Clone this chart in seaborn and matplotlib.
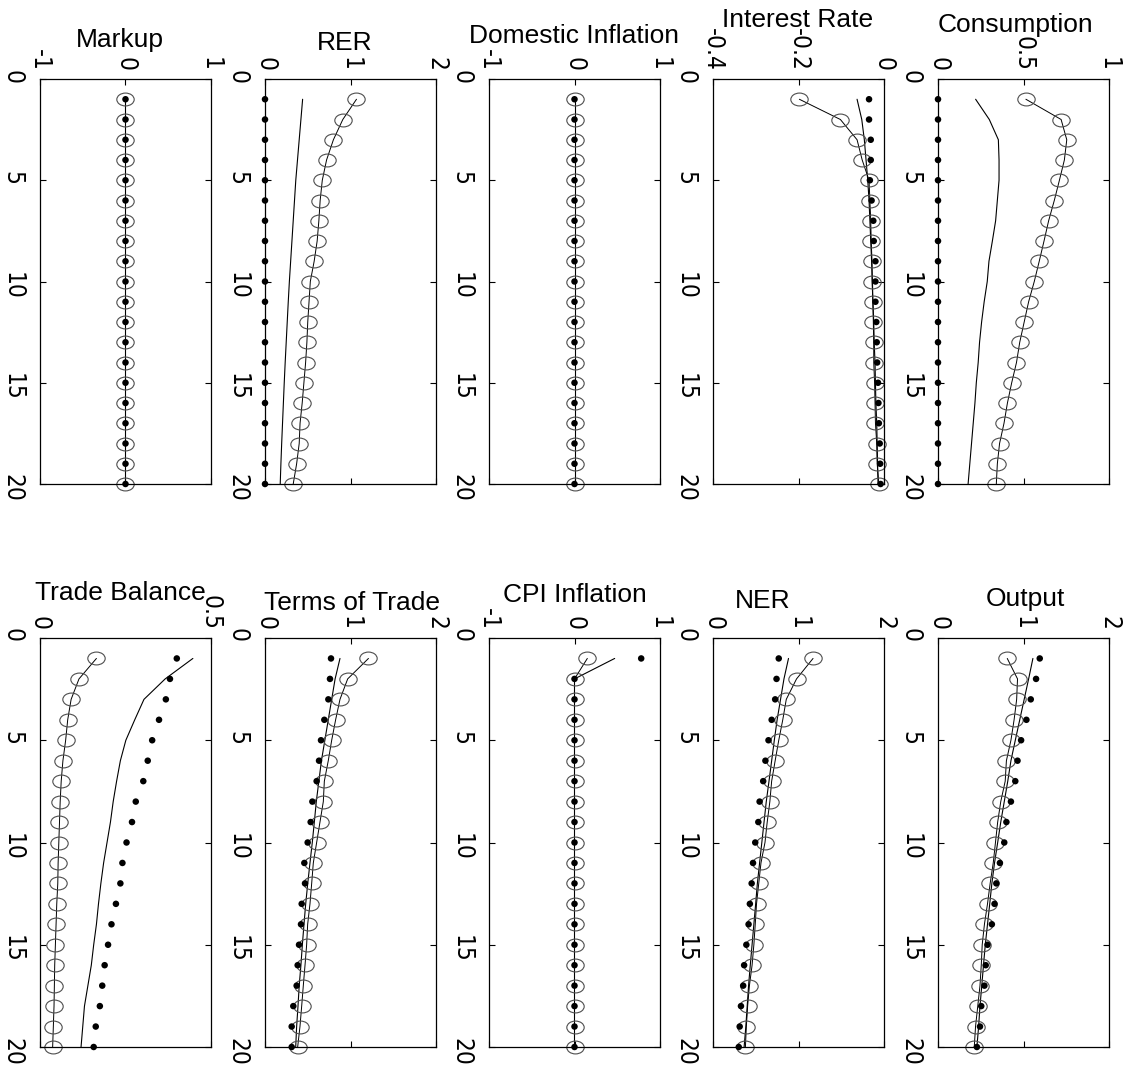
import matplotlib
matplotlib.use("Agg")
import matplotlib.pyplot as plt
from matplotlib import font_manager as fm
import seaborn as sns
from matplotlib.path import Path
from matplotlib.transforms import Affine2D

# ---------------- data ----------------
periods = [1, 2, 3, 4, 5, 6, 7, 8, 9, 10, 11, 12, 13, 14, 15, 16, 17, 18, 19, 20]
period_ticks = [0, 5, 10, 15, 20]

zeros = [0, 0, 0, 0, 0, 0, 0, 0, 0, 0, 0, 0, 0, 0, 0, 0, 0, 0, 0, 0]

# Markup
markup_line = zeros
markup_circ = zeros
markup_dots = zeros

# RER
rer_line = [0.44, 0.42, 0.40, 0.38, 0.36, 0.345, 0.33, 0.315, 0.30, 0.285,
            0.272, 0.26, 0.248, 0.236, 0.225, 0.215, 0.205, 0.195, 0.186, 0.178]
rer_circ = [1.07, 0.91, 0.80, 0.72, 0.67, 0.645, 0.63, 0.61, 0.575, 0.53,
            0.515, 0.50, 0.49, 0.475, 0.455, 0.435, 0.41, 0.40, 0.37, 0.33]
rer_dots = zeros

# Domestic inflation
dinf_line = zeros
dinf_circ = zeros
dinf_dots = zeros

# Interest rate
ir_line = [-0.063, -0.052, -0.046, -0.042, -0.038, -0.035, -0.033, -0.031, -0.029, -0.027,
           -0.026, -0.024, -0.023, -0.021, -0.020, -0.019, -0.017, -0.016, -0.015, -0.014]
ir_circ = [-0.198, -0.102, -0.063, -0.051, -0.035, -0.033, -0.031, -0.030, -0.028, -0.028,
           -0.026, -0.025, -0.024, -0.024, -0.022, -0.021, -0.020, -0.017, -0.016, -0.012]
ir_dots = [-0.035, -0.035, -0.031, -0.031, -0.033, -0.029, -0.025, -0.024, -0.020, -0.020,
           -0.020, -0.018, -0.017, -0.016, -0.014, -0.013, -0.012, -0.010, -0.009, -0.008]

# Consumption
cons_line = [0.22, 0.30, 0.353, 0.357, 0.357, 0.347, 0.337, 0.318, 0.298, 0.288,
             0.27, 0.255, 0.243, 0.235, 0.224, 0.216, 0.206, 0.196, 0.186, 0.176]
cons_circ = [0.514, 0.72, 0.753, 0.739, 0.71, 0.68, 0.647, 0.62, 0.592, 0.563,
             0.53, 0.504, 0.478, 0.459, 0.431, 0.406, 0.386, 0.36, 0.347, 0.341]
cons_dots = zeros

# Trade balance
tb_line = [0.447, 0.366, 0.304, 0.277, 0.251, 0.235, 0.224, 0.214, 0.206, 0.196,
           0.186, 0.178, 0.171, 0.165, 0.157, 0.150, 0.140, 0.130, 0.125, 0.120]
tb_circ = [0.165, 0.114, 0.091, 0.081, 0.075, 0.067, 0.062, 0.059, 0.057, 0.055,
           0.053, 0.052, 0.049, 0.047, 0.045, 0.043, 0.042, 0.041, 0.039, 0.037]
tb_dots = [0.40, 0.38, 0.368, 0.348, 0.328, 0.315, 0.302, 0.28, 0.269, 0.253,
           0.241, 0.235, 0.222, 0.209, 0.199, 0.189, 0.182, 0.175, 0.163, 0.157]

# Terms of trade
tot_line = [0.877, 0.82, 0.78, 0.74, 0.70, 0.66, 0.63, 0.60, 0.577, 0.553,
            0.526, 0.50, 0.476, 0.456, 0.437, 0.42, 0.40, 0.386, 0.37, 0.359]
tot_circ = [1.21, 0.967, 0.877, 0.826, 0.78, 0.74, 0.694, 0.682, 0.643, 0.604,
            0.565, 0.546, 0.526, 0.499, 0.487, 0.468, 0.448, 0.429, 0.409, 0.382]
tot_dots = [0.772, 0.76, 0.741, 0.694, 0.655, 0.632, 0.604, 0.554, 0.534, 0.499,
            0.46, 0.468, 0.429, 0.421, 0.398, 0.382, 0.37, 0.331, 0.312, 0.312]

# CPI inflation
cpi_line = [0.47, 0, 0, 0, 0, 0, 0, 0, 0, 0, 0, 0, 0, 0, 0, 0, 0, 0, 0, 0]
cpi_circ = [0.15, 0, 0, 0, 0, 0, 0, 0, 0, 0, 0, 0, 0, 0, 0, 0, 0, 0, 0, 0]
cpi_dots = [0.78, 0, 0, 0, 0, 0, 0, 0, 0, 0, 0, 0, 0, 0, 0, 0, 0, 0, 0, 0]

# NER
ner_line = [0.883, 0.83, 0.79, 0.75, 0.717, 0.686, 0.655, 0.623, 0.597, 0.571,
            0.545, 0.519, 0.499, 0.478, 0.457, 0.436, 0.416, 0.40, 0.384, 0.364]
ner_circ = [1.17, 0.977, 0.857, 0.816, 0.769, 0.727, 0.686, 0.665, 0.634, 0.608,
            0.561, 0.535, 0.509, 0.494, 0.478, 0.457, 0.426, 0.405, 0.39, 0.379]
ner_dots = [0.769, 0.743, 0.727, 0.686, 0.649, 0.613, 0.587, 0.545, 0.53, 0.494,
            0.468, 0.452, 0.431, 0.416, 0.39, 0.364, 0.353, 0.327, 0.312, 0.301]

# Output
out_line = [1.11, 1.06, 1.008, 0.956, 0.904, 0.853, 0.816, 0.775, 0.734, 0.698,
            0.661, 0.63, 0.605, 0.579, 0.553, 0.532, 0.512, 0.491, 0.475, 0.455]
out_circ = [0.81, 0.93, 0.92, 0.89, 0.853, 0.80, 0.786, 0.734, 0.698, 0.672,
            0.646, 0.61, 0.579, 0.543, 0.517, 0.506, 0.491, 0.465, 0.439, 0.424]
out_dots = [1.19, 1.147, 1.085, 1.034, 0.972, 0.93, 0.904, 0.853, 0.80, 0.775,
            0.724, 0.682, 0.661, 0.63, 0.579, 0.558, 0.543, 0.506, 0.491, 0.455]

titles = ["Markup", "RER", "Domestic Inflation", "Interest Rate", "Consumption",
          "Trade Balance", "Terms of Trade", "CPI Inflation", "NER", "Output"]

value_ticks = [[-1, 0, 1], [0, 1, 2], [-1, 0, 1], [-0.4, -0.2, 0], [0, 0.5, 1],
               [0, 0.5], [0, 1, 2], [-1, 0, 1], [0, 1, 2], [0, 1, 2]]
value_tick_labels = [["-1", "0", "1"], ["0", "1", "2"], ["-1", "0", "1"],
                     ["-0.4", "-0.2", "0"], ["0", "0.5", "1"], ["0", "0.5"],
                     ["0", "1", "2"], ["-1", "0", "1"], ["0", "1", "2"], ["0", "1", "2"]]
value_limits = [(-1, 1), (0, 2), (-1, 1), (-0.4, 0), (0, 1),
                (0, 0.5), (0, 2), (-1, 1), (0, 2), (0, 2)]

series = [
    (markup_line, markup_circ, markup_dots),
    (rer_line, rer_circ, rer_dots),
    (dinf_line, dinf_circ, dinf_dots),
    (ir_line, ir_circ, ir_dots),
    (cons_line, cons_circ, cons_dots),
    (tb_line, tb_circ, tb_dots),
    (tot_line, tot_circ, tot_dots),
    (cpi_line, cpi_circ, cpi_dots),
    (ner_line, ner_circ, ner_dots),
    (out_line, out_circ, out_dots),
]

# ---------------- style / layout ----------------
sns.set_theme(style="ticks")
plt.rcParams['font.family'] = ['Liberation Sans', 'DejaVu Sans']
plt.rcParams['axes.edgecolor'] = 'black'
plt.rcParams['axes.linewidth'] = 0.9

# pick a narrow font for tick labels if one is installed
tick_font = dict(family='Liberation Sans', stretch='normal')
tick_size = 16.5
try:
    f = fm.findfont(fm.FontProperties(family='Liberation Sans Narrow'), fallback_to_default=False)
    if 'narrow' in f.lower():
        tick_font = dict(family='Liberation Sans Narrow', stretch='normal')
        tick_size = 19
except Exception:
    try:
        f = fm.findfont(fm.FontProperties(family='DejaVu Sans', stretch='condensed'),
                        fallback_to_default=False)
        if 'condensed' in f.lower():
            tick_font = dict(family='DejaVu Sans', stretch='condensed')
            tick_size = 17.5
    except Exception:
        pass

W, H = 1129, 1065
fig = plt.figure(figsize=(W / 100, H / 100), dpi=100)
fig.patch.set_facecolor('white')

col_left = [40, 265, 489, 713, 938]
ax_w = 171
rows = [(79, 484), (638, 1047)]

title_pos = [(120, 40), (345, 43), (574, 36), (798, 20), (1015, 25),
             (120, 593), (352, 603), (575, 595), (763, 601), (1025, 599)]

ELLIPSE = Path.unit_circle().transformed(Affine2D().scale(1.35, 1.0))

for i in range(10):
    r, c = divmod(i, 5)
    top, bottom = rows[r]
    left = col_left[c]
    ax = fig.add_axes([left / W, 1 - bottom / H, ax_w / W, (bottom - top) / H])
    ax.set_facecolor('white')
    line_v, circ_v, dot_v = series[i]

    sns.lineplot(x=line_v, y=periods, ax=ax, color='black', linewidth=0.8,
                 estimator=None, sort=False, clip_on=False)
    sns.lineplot(x=circ_v, y=periods, ax=ax, color='black', linewidth=0.7,
                 marker=ELLIPSE, markersize=12.5, markerfacecolor='none',
                 markeredgecolor='0.3', markeredgewidth=0.8,
                 estimator=None, sort=False, clip_on=False)
    sns.scatterplot(x=dot_v, y=periods, ax=ax, color='black', s=22,
                    edgecolor='none', zorder=4, clip_on=False)

    ax.set_xlim(*value_limits[i])
    ax.set_ylim(20, 0)
    ax.set_xticks(value_ticks[i])
    ax.set_xticklabels(value_tick_labels[i])
    ax.set_yticks(period_ticks)
    ax.set_yticklabels([str(p) for p in period_ticks])
    ax.set_xlabel('')
    ax.set_ylabel('')
    ax.tick_params(axis='both', direction='in', length=4, width=0.8, colors='black',
                   top=True, bottom=True, left=True, right=True,
                   labeltop=True, labelbottom=False, labelleft=True, labelright=False)
    ax.tick_params(axis='x', pad=6, labelrotation=270)
    ax.tick_params(axis='y', pad=11, labelrotation=270)
    for lab in ax.get_xticklabels() + ax.get_yticklabels():
        lab.set_fontfamily(tick_font['family'])
        lab.set_fontstretch(tick_font['stretch'])
        lab.set_fontsize(tick_size)
    for sp in ax.spines.values():
        sp.set_visible(True)
        sp.set_color('black')
        sp.set_linewidth(0.9)

    tx, ty = title_pos[i]
    fig.text(tx / W, 1 - ty / H, titles[i], ha='center', va='center',
             fontsize=19, color='black', family=['Liberation Sans', 'DejaVu Sans'])

fig.savefig("out.png", dpi=100, facecolor='white')
